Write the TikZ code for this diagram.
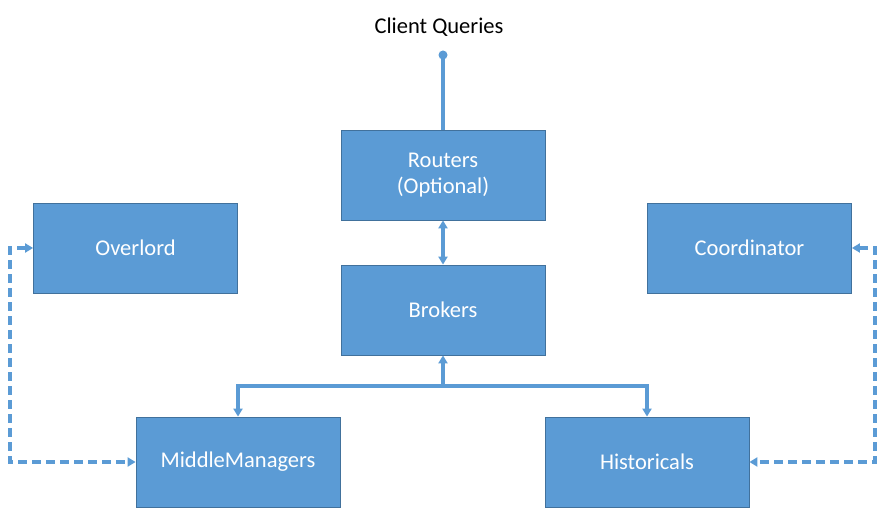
\documentclass[tikz,border=0pt]{standalone}
\usepackage{fontspec}
\setmainfont{Carlito}
\usetikzlibrary{arrows.meta}
\definecolor{boxfill}{HTML}{5B9BD5}
\definecolor{boxdraw}{HTML}{41719C}
\begin{document}
\begin{tikzpicture}[x=1pt,y=-1pt,
  box/.style={draw=boxdraw,fill=boxfill,line width=0.8pt,minimum width=204pt,minimum height=90pt,
    text=white,font=\fontsize{22.5}{26}\selectfont,align=center,inner sep=0pt},
  conn/.style={draw=boxfill,line width=3.2pt},
  tip/.style={-{Triangle[length=8pt,width=9pt]}},
  tips/.style={{Triangle[length=8pt,width=9pt]}-{Triangle[length=8pt,width=9pt]}},
  dconn/.style={draw=boxfill,line width=3.2pt,dash pattern=on 9pt off 5pt}
]
\useasboundingbox (0,0) rectangle (884,521);
\node[font=\fontsize{22.5}{26}\selectfont] (client) at (439,27) {Client Queries};
\coordinate (dot) at (443,55);
\node[box] (routers) at (443,175) {Routers\\(Optional)};
\node[box] (brokers) at (443,310) {Brokers};
\node[box] (overlord) at (135.5,248) {Overlord};
\node[box] (coord) at (749.5,248) {Coordinator};
\node[box] (mm) at (238,462) {MiddleManagers};
\node[box] (hist) at (647,462) {Historicals};
\coordinate (bus) at (443,386);
\coordinate (ll) at (10,248);
\coordinate (lb) at (10,462);
\coordinate (rr) at (875,248);
\coordinate (rb) at (875,462);

\draw[conn] (routers.north) -- (dot);
\fill[boxfill] (dot) circle (4.5pt);
\draw[conn,tips] (routers.south) -- (brokers.north);
\draw[conn,tip] (bus) -- (brokers.south);
\draw[conn,tip] (bus) -| (mm.north);
\draw[conn,tip] (bus) -| (hist.north);
\draw[dconn,tips] (overlord.west) -- (ll) -- (lb) -- (mm.west);
\draw[dconn,tips] (coord.east) -- (rr) -- (rb) -- (hist.east);
\end{tikzpicture}
\end{document}
